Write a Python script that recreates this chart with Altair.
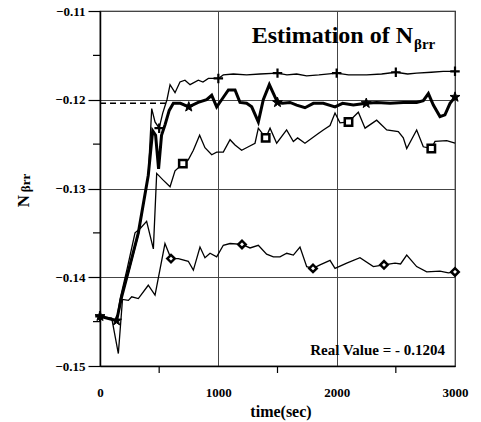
import altair as alt
import pandas as pd

# ---- data ----
plus_t = [0, 140, 183, 250, 324, 408, 437, 465, 500, 530, 566, 592, 634, 676, 718, 761, 831, 870, 916,
          1000, 1042, 1127, 1239, 1352, 1500, 1580, 1662, 1746, 1850, 2000, 2100, 2254, 2380, 2500,
          2600, 2676, 2800, 2900, 3000]
plus_v = [-0.1444, -0.1449, -0.1422, -0.1390, -0.1352, -0.1285, -0.1210, -0.1225, -0.1232, -0.1215,
          -0.1200, -0.1183, -0.1192, -0.1180, -0.1178, -0.1183, -0.1178, -0.1180, -0.1176,
          -0.1176, -0.1172, -0.1171, -0.1172, -0.1171, -0.1170, -0.1172, -0.1171, -0.1173, -0.1172,
          -0.1170, -0.1172, -0.1172, -0.1171, -0.1169, -0.1171, -0.1170, -0.1169, -0.1168, -0.1168]

star_t = [0, 140, 183, 250, 324, 408, 445, 470, 495, 520, 550, 585, 620, 680, 750, 830, 901, 944, 986,
          1028, 1085, 1141, 1183, 1239, 1282, 1338, 1380, 1431, 1500, 1540, 1606, 1662, 1732, 1803,
          1887, 1986, 2050, 2141, 2250, 2338, 2451, 2563, 2676, 2732, 2775, 2817, 2873, 2915, 2958, 3000]
star_v = [-0.1444, -0.1449, -0.1422, -0.1388, -0.1350, -0.1285, -0.1235, -0.1240, -0.1278, -0.1240,
          -0.1228, -0.1212, -0.1204, -0.1204, -0.1208, -0.1203, -0.1200, -0.1195, -0.1208,
          -0.1200, -0.1189, -0.1189, -0.1203, -0.1204, -0.1208, -0.1225, -0.1200, -0.1183, -0.1203,
          -0.1204, -0.1203, -0.1206, -0.1209, -0.1204, -0.1204, -0.1208, -0.1204, -0.1206, -0.1204,
          -0.1203, -0.1204, -0.1203, -0.1203, -0.1201, -0.1193, -0.1206, -0.1219, -0.1217, -0.1204, -0.1197]

square_t = [0, 140, 169, 230, 296, 340, 394, 451, 479, 530, 592, 634, 700, 745, 789, 842, 887, 944, 986,
            1042, 1099, 1141, 1197, 1254, 1310, 1338, 1400, 1437, 1493, 1577, 1634, 1670, 1732, 1845,
            1887, 1944, 1986, 2028, 2100, 2183, 2240, 2338, 2423, 2521, 2563, 2592, 2676, 2732, 2800,
            2831, 2930, 3000]
square_v = [-0.1444, -0.1449, -0.1425, -0.1390, -0.1350, -0.1345, -0.1337, -0.1368, -0.1283, -0.1290,
            -0.1298, -0.1280, -0.1272, -0.1268, -0.1257, -0.1240, -0.1254, -0.1262, -0.1259,
            -0.1259, -0.1245, -0.1251, -0.1257, -0.1253, -0.1249, -0.1232, -0.1243, -0.1232, -0.1249,
            -0.1234, -0.1247, -0.1243, -0.1249, -0.1238, -0.1234, -0.1229, -0.1215, -0.1226, -0.1225,
            -0.1214, -0.1232, -0.1223, -0.1234, -0.1236, -0.1243, -0.1255, -0.1234, -0.1253, -0.1255,
            -0.1247, -0.1246, -0.1249]

diamond_t = [0, 99, 155, 190, 240, 268, 324, 408, 465, 549, 600, 662, 746, 789, 845, 887, 930, 986,
             1042, 1099, 1200, 1268, 1338, 1408, 1465, 1521, 1578, 1634, 1690, 1747, 1800, 1859, 1944,
             1986, 2085, 2197, 2310, 2400, 2493, 2540, 2592, 2676, 2761, 2873, 2944, 3000]
diamond_v = [-0.1444, -0.1446, -0.1486, -0.1425, -0.1426, -0.1422, -0.1424, -0.1409, -0.1420, -0.1362,
             -0.1379, -0.1379, -0.1382, -0.1392, -0.1366, -0.1378, -0.1373, -0.1377,
             -0.1364, -0.1362, -0.1363, -0.1367, -0.1364, -0.1374, -0.1377, -0.1377, -0.1373, -0.1375,
             -0.1366, -0.1388, -0.1390, -0.1386, -0.1381, -0.1390, -0.1384, -0.1378, -0.1388, -0.1386,
             -0.1384, -0.1385, -0.1375, -0.1388, -0.1394, -0.1393, -0.1395, -0.1394]

plus_marks = [0, 500, 1000, 1500, 2000, 2500, 3000]
star_marks = [0, 140, 750, 1500, 2250, 3000]
square_marks = [700, 1400, 2100, 2800]
diamond_marks = [600, 1200, 1800, 2400, 3000]

real_value = [-0.1204]
real_span = [0, 560]

x_ticks = [0, 1000, 2000, 3000]
x_minor = [500, 1500, 2500]
y_ticks = [-0.15, -0.14, -0.13, -0.12, -0.11]
y_minor = [-0.145, -0.135, -0.125, -0.115]

title_main = ["Estimation of N"]
title_sub = ["\u03b2rr"]
ytitle_main = ["N"]
ytitle_sub = ["\u03b2rr"]
xtitle = ["time(sec)"]
note = ["Real Value = - 0.1204"]

# ---- build ----
def frame(name, ts, vs, marks):
    return pd.DataFrame({"t": ts, "v": vs, "series": name,
                         "marker": [t in marks for t in ts]})

df = pd.concat([
    frame("plus", plus_t, plus_v, plus_marks),
    frame("star", star_t, star_v, star_marks),
    frame("square", square_t, square_v, square_marks),
    frame("diamond", diamond_t, diamond_v, diamond_marks),
], ignore_index=True)

FONT = "Liberation Serif"
xs = alt.Scale(domain=[0, 3000], nice=False, zero=False)
ys = alt.Scale(domain=[-0.15, -0.11], nice=False, zero=False)

X = alt.X("t:Q", scale=xs, axis=alt.Axis(values=x_ticks, format="d", grid=True, gridColor="#444",
                                         gridWidth=1, ticks=False, labelPadding=20, labelFont=FONT,
                                         labelFontSize=13, labelFontWeight="bold", labelColor="black",
                                         domainColor="black", domainWidth=1.5, title=None,
                                         labelFlush=False))
Y = alt.Y("v:Q", scale=ys, axis=alt.Axis(values=y_ticks, format=".2f", grid=True, gridColor="#444",
                                         gridWidth=1, tickSize=12, tickColor="black", tickWidth=1.2,
                                         labelPadding=3, labelFont=FONT, labelFontSize=13,
                                         labelFontWeight="bold", labelColor="black",
                                         domainColor="black", domainWidth=1.5, title=None,
                                         labelFlush=False))

base = alt.Chart(df)

ref_df = pd.DataFrame({"t": [real_span[0]], "t2": [real_span[1]], "v": real_value})
ref_line = alt.Chart(ref_df).mark_rule(color="black", strokeWidth=1.5, strokeDash=[6, 4]).encode(
    x=alt.X("t:Q", scale=xs), x2="t2:Q", y=alt.Y("v:Q", scale=ys))

thin = base.transform_filter(alt.datum.series != "star").mark_line(
    color="black", strokeWidth=1.3).encode(x=X, y=Y, detail="series:N", order="t:Q")
thick = base.transform_filter(alt.datum.series == "star").mark_line(
    color="black", strokeWidth=3).encode(x=X, y=Y, order="t:Q")

star_path = ("M0,-1L0.235,-0.324L0.951,-0.309L0.380,0.124L0.588,0.809L0,0.4L-0.588,0.809"
             "L-0.380,0.124L-0.951,-0.309L-0.235,-0.324Z")

def markers(name, **kw):
    return base.transform_filter(
        (alt.datum.series == name) & alt.datum.marker
    ).mark_point(**kw).encode(x=alt.X("t:Q", scale=xs), y=alt.Y("v:Q", scale=ys))

m_plus = markers("plus", shape="M-1,0L1,0M0,-1L0,1", filled=False, stroke="black",
                 strokeWidth=2.2, size=90, opacity=1)
m_star = markers("star", shape=star_path, filled=True, fill="black", stroke="black",
                 strokeWidth=1, size=110, opacity=1)
m_square = markers("square", shape="square", filled=True, fill="white", stroke="black",
                   strokeWidth=2.5, size=55, opacity=1)
m_diamond = markers("diamond", shape="diamond", filled=True, fill="white", stroke="black",
                    strokeWidth=2.5, size=55, opacity=1)

xminor = alt.Chart(pd.DataFrame({"t": x_minor})).mark_rule(color="black", strokeWidth=1.2).encode(
    x=alt.X("t:Q", scale=xs), y=alt.value(355), y2=alt.value(362))
yminor = alt.Chart(pd.DataFrame({"v": y_minor})).mark_rule(color="black", strokeWidth=1.2).encode(
    y=alt.Y("v:Q", scale=ys), x=alt.value(-7), x2=alt.value(0))

def label(texts, px, py, size, align="left", angle=0, baseline="alphabetic"):
    kw = dict(font=FONT, fontWeight="bold", fontSize=size, color="black", align=align,
              baseline=baseline)
    if angle:
        kw["angle"] = angle
    return alt.Chart(pd.DataFrame({"s": texts})).mark_text(**kw).encode(
        text="s:N", x=alt.value(px), y=alt.value(py))

t1 = label(title_main, 313, 32, 24, align="right")
t2 = label(title_sub, 314, 38, 15, align="left")
yt1 = label(ytitle_main, -76, 190, 17, align="center", angle=270, baseline="middle")
yt2 = label(ytitle_sub, -74, 172, 13, align="center", angle=270, baseline="middle")
xt = label(xtitle, 181, 406, 16, align="center")
nt = label(note, 345, 344, 15, align="right")

chart = alt.layer(ref_line, thin, thick, m_plus, m_star, m_square, m_diamond,
                  xminor, yminor, t1, t2, yt1, yt2, xt, nt).properties(
    width=355, height=355,
    autosize=alt.AutoSizeParams(type="none"),
    padding={"left": 100, "top": 11, "right": 26, "bottom": 56},
    background="white",
).configure_view(stroke="black", strokeWidth=1.2).configure_axis(
    labelFont=FONT, labelFontWeight="bold")

chart.save("out.html", embed_options={"renderer": "svg", "actions": False})
